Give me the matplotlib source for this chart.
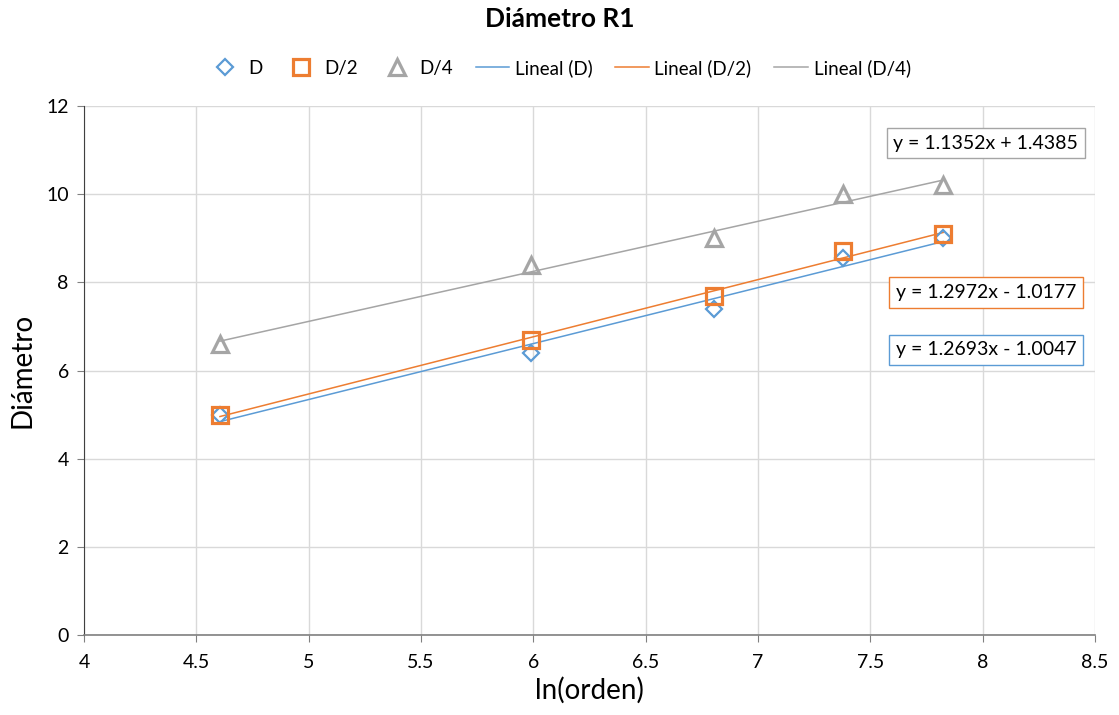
import matplotlib.pyplot as plt
import numpy as np

plt.rcParams['font.family'] = ['Lato', 'DejaVu Sans']

# ln(orden) values
x = [4.605, 5.991, 6.802, 7.378, 7.824]

# Diameters per series
d_full = [5.0, 6.4, 7.4, 8.55, 9.0]
d_half = [5.0, 6.7, 7.7, 8.7, 9.1]
d_quarter = [6.6, 8.4, 9.0, 10.0, 10.2]

# Linear trend coefficients (slope, intercept) as shown in the chart
slopes = [1.2693, 1.2972, 1.1352]
intercepts = [-1.0047, -1.0177, 1.4385]

names = ['D', 'D/2', 'D/4']
colors = ['#5B9BD5', '#ED7D31', '#A5A5A5']
markers = ['D', 's', '^']
msizes = [8, 11.5, 11]
mwidths = [1.6, 2.3, 2.3]
series = [d_full, d_half, d_quarter]

fig = plt.figure(figsize=(11.19, 7.15), dpi=100)
ax = fig.add_axes([0.0751, 0.1119, 0.9035, 0.7398])

handles_pts = []
handles_lines = []
for ys, name, c, m, ms, mw in zip(series, names, colors, markers, msizes, mwidths):
    h, = ax.plot(x, ys, linestyle='none', marker=m, markersize=ms,
                 markerfacecolor='none', markeredgecolor=c, markeredgewidth=mw,
                 label=name, zorder=3)
    handles_pts.append(h)

xx = np.array([x[0], x[-1]])
for a, b, name, c in zip(slopes, intercepts, names, colors):
    h, = ax.plot(xx, a * xx + b, color=c, linewidth=1.1, label='Lineal (%s)' % name, zorder=2)
    handles_lines.append(h)

# equation boxes
eq_pos = [(0.892, 0.539), (0.892, 0.648), (0.892, 0.930)]
for a, b, c, pos in zip(slopes, intercepts, colors, eq_pos):
    sign = '+' if b >= 0 else '-'
    txt = 'y = %.4fx %s %.4f' % (a, sign, abs(b))
    ax.text(pos[0], pos[1], txt, transform=ax.transAxes, ha='center', va='center',
            fontsize=14, color='black',
            bbox=dict(boxstyle='square,pad=0.35', facecolor='white', edgecolor=c, linewidth=1))

ax.set_xlim(4, 8.5)
ax.set_ylim(0, 12)
ax.set_xticks(np.arange(4, 8.51, 0.5))
ax.set_xticklabels(['4', '4.5', '5', '5.5', '6', '6.5', '7', '7.5', '8', '8.5'])
ax.set_yticks(np.arange(0, 12.1, 2))
ax.grid(True, color='#D9D9D9', linewidth=1)
ax.set_axisbelow(True)
for s in ['top', 'right']:
    ax.spines[s].set_visible(False)
ax.spines['left'].set_color('#404040')
ax.spines['bottom'].set_color('#808080')
ax.spines['bottom'].set_linewidth(1.2)
ax.tick_params(axis='both', labelsize=14, colors='#808080', labelcolor='black', length=5)
ax.tick_params(axis='x', pad=9)
ax.tick_params(axis='y', pad=6)

ax.set_xlabel('ln(orden)', fontsize=20, labelpad=4)
ax.set_ylabel('Diámetro', fontsize=20, labelpad=8)
fig.suptitle('Diámetro R1', fontsize=19, fontweight='bold', y=0.99)

fig.legend(handles=handles_pts + handles_lines, loc='center', bbox_to_anchor=(0.5, 0.905),
           ncol=6, frameon=False, fontsize=13.5, handlelength=1.8, columnspacing=1.2,
           handletextpad=0.3)

fig.savefig('out.png', dpi=100)
